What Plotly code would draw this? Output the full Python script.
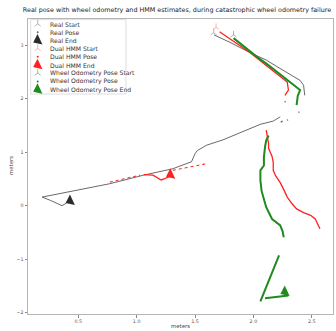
import plotly.graph_objects as go

# ---------------- data (meters) ----------------
real_start = ([1.66], [3.23])
real_x = [1.663, 1.80, 1.97, 2.11, 2.20, 2.30, 2.40, 2.43, 2.44, None,
          2.39, 2.39, None,
          2.23, 2.17, 2.06, 1.94, 1.84, 1.74, 1.60, 1.52, 1.50, 1.47, 1.31, 1.06, 0.77, 0.50, 0.19, 0.26, 0.36, 0.40]
real_y = [3.19, 3.05, 2.86, 2.72, 2.60, 2.47, 2.34, 2.25, 2.06, None,
          1.76, 1.73, None,
          1.66, 1.58, 1.52, 1.41, 1.32, 1.23, 1.13, 1.03, 0.97, 0.82, 0.69, 0.57, 0.41, 0.29, 0.16, 0.10, 0.00, 0.05]
real_end = ([0.43], [0.09])

hmm_start = ([1.68], [3.33])
hmm_x = [1.71, 1.84, 1.97, 2.11, 2.20, 2.29, 2.30, 2.27, None,
         2.27, 2.275, None,
         2.29, 2.295, None,
         2.11, 2.12, 2.13, 2.13, 2.16, 2.17, 2.17, 2.19, 2.23, 2.26, 2.29, 2.33, 2.37, 2.43, 2.49, 2.53, 2.57, None,
         1.57, 1.575, None,
         1.06, 1.14, 1.21, 1.27, 1.29]
hmm_y = [3.25, 3.05, 2.86, 2.62, 2.47, 2.31, 2.16, 2.06, None,
         1.95, 1.93, None,
         1.61, 1.59, None,
         1.41, 1.30, 1.16, 1.07, 0.92, 0.81, 0.66, 0.56, 0.43, 0.30, 0.16, 0.04, -0.06, -0.13, -0.18, -0.25, -0.43, None,
         0.78, 0.77, None,
         0.58, 0.57, 0.48, 0.53, 0.57]
hmm_gap_x = [0.77, 0.90, 1.03, None, 1.31, 1.45, 1.59]
hmm_gap_y = [0.44, 0.50, 0.57, None, 0.66, 0.72, 0.78]
hmm_end = ([1.29], [0.58])

odo_start = ([1.83], [3.19])
odo_x = [1.83, 1.93, 2.03, 2.12, 2.20, 2.30, 2.40, 2.38, 2.37, None,
         2.24, 2.245, None,
         2.13, 2.11, 2.10, 2.09, 2.09, 2.06, 2.06, 2.07, 2.09, 2.11, 2.16, 2.23, 2.25, 2.26, None,
         2.22, 2.06, None,
         2.10, 2.20, 2.30]
odo_y = [3.13, 2.95, 2.78, 2.64, 2.50, 2.33, 2.16, 2.05, 1.88, None,
         1.58, 1.56, None,
         1.31, 1.22, 1.10, 0.91, 0.75, 0.66, 0.47, 0.28, 0.12, -0.03, -0.25, -0.37, -0.48, -0.59, None,
         -0.93, -1.79, None,
         -1.73, -1.70, -1.68]
odo_end = ([2.27], [-1.61])

legend_labels = ["Real Start", "Real Pose", "Real End",
                 "Dual HMM Start", "Dual HMM Pose", "Dual HMM End",
                 "Wheel Odometry Pose Start", "Wheel Odometry Pose", "Wheel Odometry Pose End"]

x_ticks = [0.5, 1.0, 1.5, 2.0, 2.5]
x_tick_text = ["0.5", "1.0", "1.5", "2.0", "2.5"]
y_ticks = [-2, -1, 0, 1, 2, 3]

# ---------------- styles ----------------
BLACK = "rgba(55,55,55,0.75)"
RED = "#ff2020"
GREEN = "#1f8a1f"
END_ANGLE = -25

W, H = 336, 331
L, R, T, B = 28, 3, 19, 17

fig = go.Figure()

fig.add_trace(go.Scatter(x=real_x, y=real_y, mode="lines", line=dict(color=BLACK, width=1.0), showlegend=False))
fig.add_trace(go.Scatter(x=hmm_gap_x, y=hmm_gap_y, mode="lines", line=dict(color=RED, width=1, dash="dot"), showlegend=False))
fig.add_trace(go.Scatter(x=hmm_x, y=hmm_y, mode="lines", line=dict(color=RED, width=1.3), showlegend=False))
fig.add_trace(go.Scatter(x=odo_x, y=odo_y, mode="lines", line=dict(color=GREEN, width=2), showlegend=False))

starts = [(real_start, "rgba(120,120,120,0.6)"), (hmm_start, "rgba(255,60,60,0.45)"), (odo_start, "rgba(30,140,30,0.55)")]
for (sx, sy), c in starts:
    fig.add_trace(go.Scatter(x=sx, y=sy, mode="markers", showlegend=False,
                             marker=dict(symbol="y-up", size=5, line=dict(color=c, width=0.9))))
ends = [(real_end, "#2b2b2b"), (hmm_end, RED), (odo_end, GREEN)]
for (ex, ey), c in ends:
    fig.add_trace(go.Scatter(x=ex, y=ey, mode="markers", showlegend=False,
                             marker=dict(symbol="triangle-left", size=10, color=c, angle=END_ANGLE,
                                         line=dict(width=0))))

# ---------------- manual legend (pixel coordinate overlay) ----------------
leg_y0, leg_dy = 24.0, 8.2
leg_mx, leg_tx = 37.7, 48.0
leg_styles = [
    dict(symbol="y-up", size=5, line=dict(color="rgba(120,120,120,0.6)", width=0.9)),
    dict(symbol="circle", size=2, color=BLACK, line=dict(width=0)),
    dict(symbol="triangle-left", size=10, color="#2b2b2b", angle=END_ANGLE, line=dict(width=0)),
    dict(symbol="y-up", size=5, line=dict(color="rgba(255,60,60,0.45)", width=0.9)),
    dict(symbol="circle", size=2, color=RED, line=dict(width=0)),
    dict(symbol="triangle-left", size=10, color=RED, angle=END_ANGLE, line=dict(width=0)),
    dict(symbol="y-up", size=5, line=dict(color="rgba(30,140,30,0.55)", width=0.9)),
    dict(symbol="circle", size=2, color=GREEN, line=dict(width=0)),
    dict(symbol="triangle-left", size=10, color=GREEN, angle=END_ANGLE, line=dict(width=0)),
]
annotations = []
for i, (lab, st) in enumerate(zip(legend_labels, leg_styles)):
    yy = leg_y0 + i * leg_dy
    fig.add_trace(go.Scatter(x=[leg_mx], y=[yy], xaxis="x2", yaxis="y2", mode="markers",
                             marker=st, showlegend=False, hoverinfo="skip"))
    annotations.append(dict(x=leg_tx, y=yy, xref="x2", yref="y2", text=lab, showarrow=False,
                            xanchor="left", yanchor="middle",
                            font=dict(family="DejaVu Sans", size=6.1, color="#333")))

annotations.append(dict(x=(180 - L) / (W - L - R), y=-(326 - (H - B)) / (H - T - B), xref="paper", yref="paper",
                        text="meters", showarrow=False, xanchor="center", yanchor="middle",
                        font=dict(family="DejaVu Sans", size=5.4, color="#444")))
annotations.append(dict(x=-(L - 11) / (W - L - R), y=((H - B) - 166) / (H - T - B), xref="paper", yref="paper",
                        text="meters", showarrow=False, textangle=-90, xanchor="center", yanchor="middle",
                        font=dict(family="DejaVu Sans", size=5.4, color="#444")))

fig.update_layout(
    width=W, height=H,
    margin=dict(l=L, r=R, t=T, b=B, pad=0),
    paper_bgcolor="white", plot_bgcolor="white",
    font=dict(family="DejaVu Sans", color="#444"),
    title=dict(text="Real pose with wheel odometry and HMM estimates, during catastrophic wheel odometry failure",
               x=177 / W, xanchor="center", xref="container", y=1 - 9.5 / H, yanchor="middle",
               font=dict(family="DejaVu Sans", size=6.4, color="#222")),
    xaxis=dict(range=[0.069, 2.682], tickvals=x_ticks, ticktext=x_tick_text, showgrid=False, zeroline=False,
               showline=True, linecolor="#b5b5b5", linewidth=1, mirror=True,
               ticks="outside", ticklen=2.5, tickcolor="#888", tickwidth=0.8,
               tickfont=dict(family="DejaVu Sans", size=4.8, color="#555")),
    yaxis=dict(range=[-2.024, 3.487], tickvals=y_ticks, showgrid=False, zeroline=False,
               showline=True, linecolor="#b5b5b5", linewidth=1, mirror=True,
               ticks="outside", ticklen=2.5, tickcolor="#888", tickwidth=0.8,
               tickfont=dict(family="DejaVu Sans", size=4.8, color="#555")),
    xaxis2=dict(overlaying="x", anchor="y2", range=[L, W - R], visible=False, fixedrange=True),
    yaxis2=dict(overlaying="y", anchor="x2", range=[H - B, T], visible=False, fixedrange=True),
    annotations=annotations,
    shapes=[dict(type="rect", xref="x2", yref="y2", x0=30.7, x1=126, y0=19.6, y1=94,
                 line=dict(color="#dddddd", width=1), fillcolor="rgba(255,255,255,0.8)", layer="below")],
    showlegend=False,
)

fig.write_html("out.html")
